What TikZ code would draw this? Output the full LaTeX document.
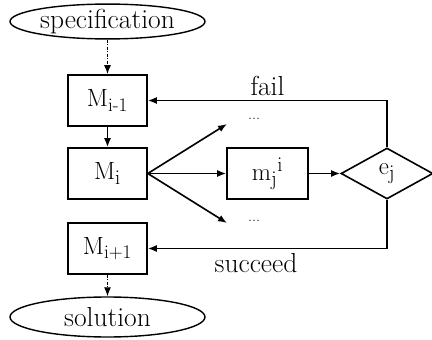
\documentclass[tikz,border=0pt]{standalone}
\usepackage{amsmath}
\usetikzlibrary{shapes.geometric,arrows.meta}
\begin{document}
\begin{tikzpicture}[x=1pt,y=-1pt,
  every node/.style={font=\fontsize{27.5}{31}\selectfont},
  mbox/.style={draw,line width=1.6pt,minimum width=79pt,minimum height=51pt,inner sep=0pt},
  oval/.style={draw,line width=1.4pt,ellipse,minimum width=195pt,inner sep=0pt},
  dec/.style={draw,line width=1.6pt,diamond,minimum width=92pt,minimum height=51pt,inner sep=0pt},
  conn/.style={line width=1.6pt,-{Latex[length=9pt,width=7pt]}},
  dconn/.style={conn,line width=1.2pt,dash pattern=on 3pt off 1.5pt on 1pt off 1.5pt},
  dots/.style={font=\fontsize{16}{18}\selectfont,inner sep=0pt}]
\useasboundingbox (0,0) rectangle (432,340);
\node[oval,minimum height=33pt] (spec) at (107.5,21.5) {specification};
\node[mbox] (Mim1) at (107.5,100.5) {$\mathrm{M}_{\text{i-1}}$};
\node[mbox] (Mi) at (107.5,173.5) {$\mathrm{M}_{\mathrm{i}}$};
\node[mbox] (Mip1) at (107.5,248.5) {$\mathrm{M}_{\text{i+1}}$};
\node[oval,minimum height=40pt] (sol) at (107.5,317) {solution};
\node[mbox,minimum width=81pt] (m) at (267.5,173.5) {$\mathrm{m_j}^{\mathrm{i}}$};
\node[dec] (e) at (387,173.5) {$\mathrm{e_j}$};
\node[dots] (dt) at (254,119) {...};
\node[dots] (db) at (254,221) {...};
\coordinate (tipT) at (227,124);
\coordinate (tipB) at (227,223);
\node[anchor=base,inner sep=0pt] (fail) at (267.5,95) {fail};
\node[anchor=base,inner sep=0pt] (succ) at (256,272) {succeed};
\draw[dconn] (spec.south) -- (Mim1.north);
\draw[conn] (Mim1.south) -- (Mi.north);
\draw[conn] (Mi.east) -- (tipT);
\draw[conn] (Mi.east) -- (m.west);
\draw[conn] (Mi.east) -- (tipB);
\draw[conn] (m.east) -- (e.west);
\draw[conn] (e.north) |- (Mim1.east);
\draw[conn] (e.south) |- (Mip1.east);
\draw[dconn] (Mip1.south) -- (sol.north);
\end{tikzpicture}
\end{document}
